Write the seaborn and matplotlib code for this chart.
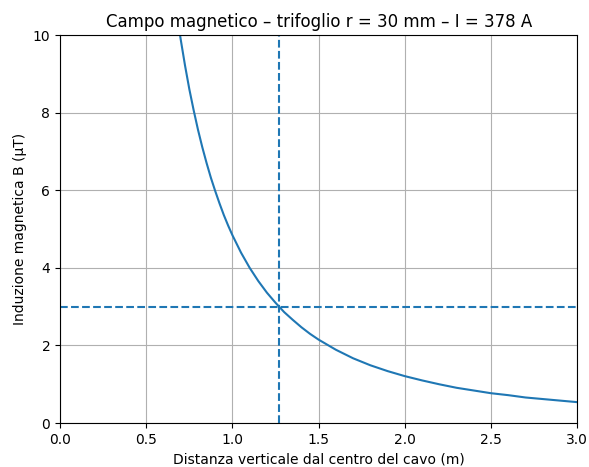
import numpy as np
import pandas as pd
import matplotlib
matplotlib.use("Agg")
from matplotlib import pyplot as plt
import seaborn as sns

# distance from cable centre (m) and field (uT)
distanza = [0.65, 0.675, 0.70, 0.725, 0.75, 0.775, 0.80, 0.825, 0.85, 0.875,
            0.90, 0.925, 0.95, 0.975, 1.00, 1.05, 1.10, 1.15,
            1.20, 1.25, 1.30, 1.35, 1.40, 1.45, 1.50, 1.60, 1.70, 1.80, 1.90,
            2.00, 2.10, 2.20, 2.30, 2.40, 2.50, 2.60, 2.70, 2.80, 2.90, 3.00]
campo_uT = [11.46, 10.62, 9.88, 9.21, 8.60, 8.06, 7.56, 7.11, 6.70, 6.32,
            5.98, 5.66, 5.36, 5.09, 4.84, 4.39, 4.00, 3.66,
            3.36, 3.10, 2.86, 2.66, 2.47, 2.30, 2.15, 1.89, 1.67, 1.49, 1.34,
            1.21, 1.10, 1.00, 0.91, 0.84, 0.77, 0.72, 0.66, 0.62, 0.58, 0.54]

soglia_uT = 3.0       # limit line
distanza_soglia = 1.27  # distance where limit is reached

df = pd.DataFrame({'d': distanza, 'B': campo_uT})

fig, ax = plt.subplots(figsize=(5.89, 4.67), dpi=100)
fig.subplots_adjust(left=0.102, right=0.98, top=0.925, bottom=0.094)

sns.lineplot(data=df, x='d', y='B', ax=ax, color='#1f77b4', linewidth=1.5)
ax.axhline(soglia_uT, color='#1f77b4', linestyle='--', linewidth=1.5)
ax.axvline(distanza_soglia, color='#1f77b4', linestyle='--', linewidth=1.5)

ax.set_xlim(0, 3)
ax.set_ylim(0, 10)
ax.grid(True)
ax.set_title('Campo magnetico – trifoglio r = 30 mm – I = 378 A')
ax.set_xlabel('Distanza verticale dal centro del cavo (m)')
ax.set_ylabel('Induzione magnetica B (µT)')

plt.savefig('out.png', dpi=100)
